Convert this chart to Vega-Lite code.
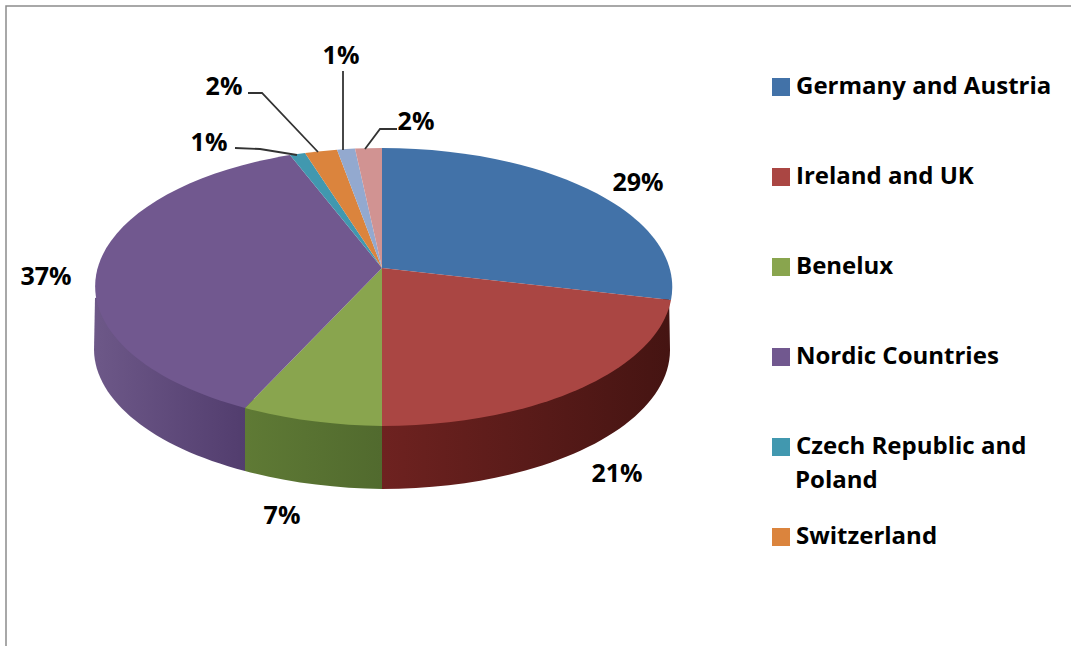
{
"$schema":"https://vega.github.io/schema/vega-lite/v6.json",
"width":1071,"height":646,"padding":0,"autosize":{"type":"none"},
"background":"white",
"view":{"stroke":null},
"data":{"values":[
{"region":"Germany and Austria","share":29,"label":"29%"},
{"region":"Ireland and UK","share":21,"label":"21%"},
{"region":"Benelux","share":7,"label":"7%"},
{"region":"Nordic Countries","share":37,"label":"37%"},
{"region":"Czech Republic and Poland","share":1,"label":"1%"},
{"region":"Switzerland","share":2,"label":"2%"},
{"region":"Other A","share":1,"label":"1%"},
{"region":"Other B","share":2,"label":"2%"}
]},
"encoding":{
"x":{"datum":0,"type":"quantitative","axis":null,"scale":{"domain":[-382,689],"range":[0,1071]}},
"y":{"datum":0,"type":"quantitative","axis":null,"scale":{"domain":[-268,378],"range":[0,646]}}
},
"layer":[
{"data":{"values":[{"frame":"border"}]},
 "mark":{"type":"rect","fill":"white","stroke":"#8c8c8c","strokeWidth":1.5},
 "encoding":{"x":{"datum":-376},"x2":{"datum":720},"y":{"datum":-262},"y2":{"datum":400}}},
{"transform":[{"filter":"datum.region==='Ireland and UK'"}],
 "mark":{"type":"point","filled":true,"opacity":1,"size":4,"shape":"M287 25L280 32A290 139 0 0 1 0 150L0 221A288 139 0 0 0 288 82Z",
 "color":{"gradient":"linear","x1":0,"y1":0,"x2":1,"y2":0,"stops":[{"offset":0,"color":"#6e2220"},{"offset":1,"color":"#451412"}]}}},
{"transform":[{"filter":"datum.region==='Benelux'"}],
 "mark":{"type":"point","filled":true,"opacity":1,"size":4,"shape":"M0 150L-137 130L-137 203A290 139 0 0 0 0 221Z",
 "color":{"gradient":"linear","x1":0,"y1":0,"x2":1,"y2":0,"stops":[{"offset":0,"color":"#5f7a35"},{"offset":1,"color":"#516a2e"}]}}},
{"transform":[{"filter":"datum.region==='Nordic Countries'"}],
 "mark":{"type":"point","filled":true,"opacity":1,"size":4,"shape":"M-137 130L-137 203A290 139 0 0 1 -288 82L-287 30L-250 19Z",
 "color":{"gradient":"linear","x1":0,"y1":0,"x2":1,"y2":0,"stops":[{"offset":0,"color":"#6d5888"},{"offset":1,"color":"#523d6e"}]}}},
{"mark":{"type":"point","filled":true,"opacity":1,"size":4},
 "encoding":{
 "shape":{"field":"region","type":"nominal","legend":null,"scale":{
   "domain":["Germany and Austria","Ireland and UK","Benelux","Nordic Countries","Czech Republic and Poland","Switzerland","Other A","Other B"],
   "range":["M0 0L0 -120A290 139 0 0 1 289 32Z","M0 0L289 32A290 139 0 0 1 0 158Z","M0 0L0 158A290 139 0 0 1 -137 140Z","M0 0L-137 140A290 139 0 0 1 -92 -113Z","M0 0L-92 -113A290 139 0 0 1 -77 -115Z","M0 0L-77 -115A290 139 0 0 1 -45 -118.3Z","M0 0L-45 -118.3A290 139 0 0 1 -27 -119.4Z","M0 0L-27 -119.4A290 139 0 0 1 0 -120Z"]}},
 "color":{"field":"region","type":"nominal","scale":{
   "domain":["Germany and Austria","Ireland and UK","Benelux","Nordic Countries","Czech Republic and Poland","Switzerland","Other A","Other B"],
   "range":["#4272a8","#aa4643","#89a54e","#71588f","#4198af","#db843d","#93a9cf","#d19392"]},
  "legend":{"title":null,"orient":"none","legendX":769,"legendY":75,"symbolType":"square","symbolSize":324,"symbolStrokeWidth":0,"symbolOpacity":1,
   "values":["Germany and Austria","Ireland and UK","Benelux","Nordic Countries","Czech Republic and Poland","Switzerland"],
   "labelFont":"Open Sans","labelFontWeight":"bold","labelFontSize":24,"labelColor":"#000000","labelLimit":300,"labelOffset":3,"rowPadding":66,
   "labelExpr":"datum.label==='Czech Republic and Poland'?'Czech Republic and':datum.label"}}
 }},
{"transform":[{"filter":"indexof(['Czech Republic and Poland','Switzerland','Other A','Other B'],datum.region)>=0"}],
 "mark":{"type":"point","filled":false,"opacity":1,"size":4,"stroke":"#333333","strokeWidth":1.8,"fill":null},
 "encoding":{"shape":{"field":"region","type":"nominal","legend":null,"scale":{
   "domain":["Czech Republic and Poland","Switzerland","Other A","Other B"],
   "range":["M-147 -120L-122 -119L-85 -113","M-134 -175L-120 -175L-64 -116","M-39 -197L-39 -118","M15 -139L-2 -139L-17 -119"]}}}},
{"transform":[{"filter":"datum.region==='Germany and Austria'"}],"mark":{"type":"text","font":"Open Sans","fontWeight":"bold","fontSize":25,"color":"#000000"},"encoding":{"text":{"field":"label"},"x":{"datum":256},"y":{"datum":-85}}},
{"transform":[{"filter":"datum.region==='Ireland and UK'"}],"mark":{"type":"text","font":"Open Sans","fontWeight":"bold","fontSize":25,"color":"#000000"},"encoding":{"text":{"field":"label"},"x":{"datum":235},"y":{"datum":206}}},
{"transform":[{"filter":"datum.region==='Benelux'"}],"mark":{"type":"text","font":"Open Sans","fontWeight":"bold","fontSize":25,"color":"#000000"},"encoding":{"text":{"field":"label"},"x":{"datum":-100},"y":{"datum":248}}},
{"transform":[{"filter":"datum.region==='Nordic Countries'"}],"mark":{"type":"text","font":"Open Sans","fontWeight":"bold","fontSize":25,"color":"#000000"},"encoding":{"text":{"field":"label"},"x":{"datum":-336},"y":{"datum":9}}},
{"transform":[{"filter":"datum.region==='Czech Republic and Poland'"}],"mark":{"type":"text","font":"Open Sans","fontWeight":"bold","fontSize":25,"color":"#000000"},"encoding":{"text":{"field":"label"},"x":{"datum":-173},"y":{"datum":-125}}},
{"transform":[{"filter":"datum.region==='Switzerland'"}],"mark":{"type":"text","font":"Open Sans","fontWeight":"bold","fontSize":25,"color":"#000000"},"encoding":{"text":{"field":"label"},"x":{"datum":-158},"y":{"datum":-181}}},
{"transform":[{"filter":"datum.region==='Other A'"}],"mark":{"type":"text","font":"Open Sans","fontWeight":"bold","fontSize":25,"color":"#000000"},"encoding":{"text":{"field":"label"},"x":{"datum":-41},"y":{"datum":-212}}},
{"transform":[{"filter":"datum.region==='Other B'"}],"mark":{"type":"text","font":"Open Sans","fontWeight":"bold","fontSize":25,"color":"#000000"},"encoding":{"text":{"field":"label"},"x":{"datum":34},"y":{"datum":-146}}},
{"transform":[{"filter":"datum.region==='Czech Republic and Poland'"}],"mark":{"type":"text","font":"Open Sans","fontWeight":"bold","fontSize":24,"color":"#000000","align":"left","text":"Poland"},"encoding":{"x":{"datum":413},"y":{"datum":213}}}
],
"resolve":{"scale":{"shape":"independent"}}
}
